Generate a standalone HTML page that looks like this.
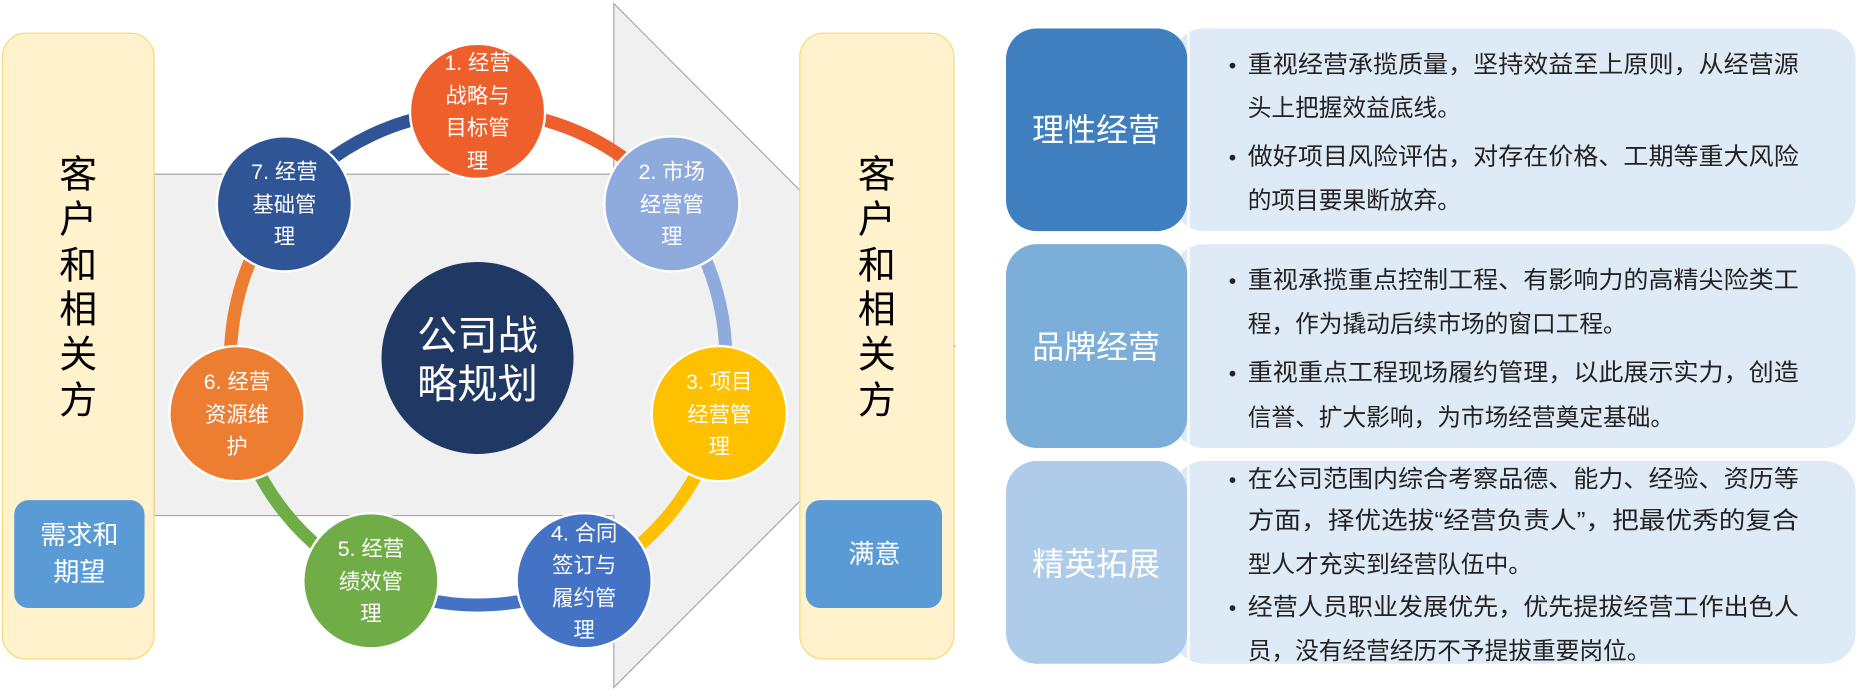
<!DOCTYPE html>
<html><head><meta charset="utf-8"><style>
html,body{margin:0;padding:0;background:#fff;width:1858px;height:691px;overflow:hidden}
svg{display:block}
text{font-family:"Liberation Sans","Noto Sans CJK SC",sans-serif}
</style></head><body>
<svg width="1858" height="691" viewBox="0 0 1568 583" preserveAspectRatio="none" xmlns="http://www.w3.org/2000/svg">
<!-- arrow -->
<path d="M130,147 L518,147 L518,3 L806,292 L518,580 L518,435 L130,435 Z" fill="#F0F0F0" stroke="#A6A6A6" stroke-width="1"/>
<!-- left yellow -->
<rect x="2" y="28" width="128" height="528" rx="20" fill="#FFF2CC" stroke="#F7D774" stroke-width="1"/>
<rect x="12" y="422" width="110" height="91" rx="12" fill="#5B9BD5"/>
<g font-size="32" fill="#000" text-anchor="middle">
<text x="66" y="158">客</text><text x="66" y="196">户</text><text x="66" y="235">和</text><text x="66" y="272">相</text><text x="66" y="310">关</text><text x="66" y="349">方</text>
</g>
<g font-size="22" fill="#fff" text-anchor="middle"><text x="67" y="459">需求和</text><text x="67" y="490">期望</text></g>
<!-- right yellow -->
<rect x="675" y="28" width="130" height="528" rx="20" fill="#FFF2CC" stroke="#F7D774" stroke-width="1"/>
<rect x="680" y="422" width="115" height="91" rx="12" fill="#5B9BD5"/>
<g font-size="32" fill="#000" text-anchor="middle">
<text x="740" y="158">客</text><text x="740" y="196">户</text><text x="740" y="235">和</text><text x="740" y="272">相</text><text x="740" y="310">关</text><text x="740" y="349">方</text>
</g>
<text x="738" y="475" font-size="22" fill="#fff" text-anchor="middle">满意</text>
<!-- ring -->
<g fill="none" stroke-width="11">
<path d="M240,172 A208,208 0 0 1 403,94" stroke="#2F5597"/>
<path d="M403,94 A208,208 0 0 1 567,172" stroke="#EE5F2B"/>
<path d="M567,172 A208,208 0 0 1 607,349" stroke="#8FAADC"/>
<path d="M607,349 A208,208 0 0 1 493,490" stroke="#FFC000"/>
<path d="M493,490 A208,208 0 0 1 313,490" stroke="#4472C4"/>
<path d="M313,490 A208,208 0 0 1 200,349" stroke="#70AD47"/>
<path d="M200,349 A208,208 0 0 1 240,172" stroke="#ED7D31"/>
</g>
<ellipse cx="403" cy="302" rx="81" ry="81" fill="#203864"/>
<g font-size="34" fill="#fff" text-anchor="middle"><text x="403" y="295">公司战</text><text x="403" y="336">略规划</text></g>
<g stroke="#fff" stroke-width="2">
<ellipse cx="403" cy="94" rx="57" ry="57" fill="#EE5F2B"/>
<ellipse cx="567" cy="172" rx="57" ry="57" fill="#8FAADC"/>
<ellipse cx="607" cy="349" rx="57" ry="57" fill="#FFC000"/>
<ellipse cx="493" cy="490" rx="57" ry="57" fill="#4472C4"/>
<ellipse cx="313" cy="490" rx="57" ry="57" fill="#70AD47"/>
<ellipse cx="200" cy="349" rx="57" ry="57" fill="#ED7D31"/>
<ellipse cx="240" cy="172" rx="57" ry="57" fill="#2F5597"/>
</g>
<g font-size="18" fill="#fff" text-anchor="middle">
<text x="403" y="59">1. 经营</text><text x="403" y="87">战略与</text><text x="403" y="114">目标管</text><text x="403" y="142">理</text>
<text x="567" y="151">2. 市场</text><text x="567" y="179">经营管</text><text x="567" y="206">理</text>
<text x="607" y="328">3. 项目</text><text x="607" y="356">经营管</text><text x="607" y="383">理</text>
<text x="493" y="456">4. 合同</text><text x="493" y="483">签订与</text><text x="493" y="511">履约管</text><text x="493" y="538">理</text>
<text x="313" y="469">5. 经营</text><text x="313" y="497">绩效管</text><text x="313" y="524">理</text>
<text x="200" y="328">6. 经营</text><text x="200" y="356">资源维</text><text x="200" y="383">护</text>
<text x="240" y="151">7. 经营</text><text x="240" y="179">基础管</text><text x="240" y="206">理</text>
</g>
<!-- right panels -->
<rect x="990" y="24" width="576" height="171" rx="26" fill="#DEEBF7"/>
<rect x="849" y="24" width="153" height="171" rx="26" fill="#3F7FBF"/>
<rect x="990" y="206" width="576" height="172" rx="26" fill="#DEEBF7"/>
<rect x="849" y="206" width="153" height="172" rx="26" fill="#7BAFD9"/>
<rect x="990" y="389" width="576" height="171" rx="26" fill="#DEEBF7"/>
<rect x="849" y="389" width="153" height="171" rx="26" fill="#AECBE9"/>
<rect x="1002" y="24" width="2" height="536" fill="#fff"/>
<g font-size="27" fill="#fff" text-anchor="middle">
<text x="925" y="119">理性经营</text><text x="925" y="302">品牌经营</text><text x="925" y="485">精英拓展</text>
</g>
<g font-size="20" fill="#222">
<g font-size="18"><text x="1037" y="61">•</text><text x="1037" y="139">•</text><text x="1037" y="243">•</text><text x="1037" y="321">•</text><text x="1037" y="411">•</text><text x="1037" y="519">•</text></g>
<text x="1053" y="61" textLength="465" lengthAdjust="spacingAndGlyphs">重视经营承揽质量，坚持效益至上原则，从经营源</text>
<text x="1053" y="98">头上把握效益底线。</text>
<text x="1053" y="139" textLength="465" lengthAdjust="spacingAndGlyphs">做好项目风险评估，对存在价格、工期等重大风险</text>
<text x="1053" y="176">的项目要果断放弃。</text>
<text x="1053" y="243" textLength="465" lengthAdjust="spacingAndGlyphs">重视承揽重点控制工程、有影响力的高精尖险类工</text>
<text x="1053" y="280">程，作为撬动后续市场的窗口工程。</text>
<text x="1053" y="321" textLength="465" lengthAdjust="spacingAndGlyphs">重视重点工程现场履约管理，以此展示实力，创造</text>
<text x="1053" y="359">信誉、扩大影响，为市场经营奠定基础。</text>
<text x="1053" y="411" textLength="465" lengthAdjust="spacingAndGlyphs">在公司范围内综合考察品德、能力、经验、资历等</text>
<text x="1053" y="446" textLength="465" lengthAdjust="spacingAndGlyphs">方面，择优选拔“经营负责人”，把最优秀的复合</text>
<text x="1053" y="483">型人才充实到经营队伍中。</text>
<text x="1053" y="519" textLength="465" lengthAdjust="spacingAndGlyphs">经营人员职业发展优先，优先提拔经营工作出色人</text>
<text x="1053" y="556">员，没有经营经历不予提拔重要岗位。</text>
</g>
</svg>
</body></html>
